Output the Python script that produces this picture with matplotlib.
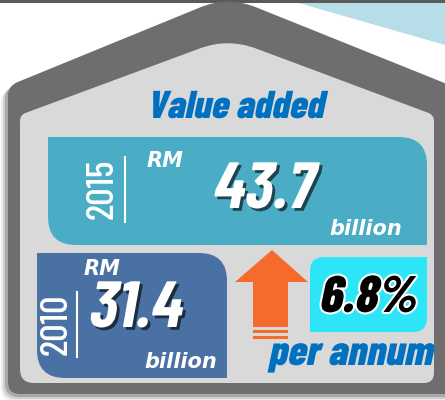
import numpy as np
import matplotlib
matplotlib.use('Agg')
import matplotlib.pyplot as plt
from matplotlib.path import Path
from matplotlib.patches import PathPatch, Polygon, Rectangle
from matplotlib.font_manager import FontProperties, fontManager
from matplotlib.transforms import Affine2D
import matplotlib.patheffects as pe

# data
years = [2010, 2015]
values = [31.4, 43.7]
growth = 6.8
title = 'Value added'
currency = 'RM'
unit = 'billion'
rate_label = 'per annum'

BLUE = '#0070c0'


def narrow(size, weight=400):
    # condensed face if there is one, else DejaVu Sans Condensed
    for f in fontManager.ttflist:
        if f.name == 'Barlow Condensed' and f.style == 'normal' and f.weight == weight:
            return FontProperties(fname=f.fname, size=size)
    return FontProperties(family=['DejaVu Sans'], weight='bold' if weight >= 600 else 'normal',
                          stretch='condensed', size=size)


class Slant(pe.AbstractPathEffect):
    """shear the glyphs around the text origin (fake italic)"""

    def __init__(self, deg=12, inner=None):
        super().__init__()
        self.deg = deg
        self.inner = inner

    def draw_path(self, renderer, gc, tpath, affine, rgbFace=None):
        m = affine.get_matrix()
        tx, ty = m[0, 2], m[1, 2]
        sk = affine + Affine2D().translate(-tx, -ty).skew_deg(self.deg, 0).translate(tx, ty)
        if self.inner is None:
            renderer.draw_path(gc, tpath, sk, rgbFace)
        else:
            self.inner.draw_path(renderer, gc, tpath, sk, rgbFace)


def rpoly(pts, radii):
    """polygon with rounded corners (quadratic curves), y axis points down"""
    verts, codes = [], []
    n = len(pts)
    for i in range(n):
        p = np.array(pts[i], float)
        a = np.array(pts[i - 1], float)
        b = np.array(pts[(i + 1) % n], float)
        r = radii[i]
        u = (a - p) / np.linalg.norm(a - p)
        v = (b - p) / np.linalg.norm(b - p)
        verts += [p + u * r, p, p + v * r]
        codes += [Path.MOVETO if i == 0 else Path.LINETO, Path.CURVE3, Path.CURVE3]
    verts.append(verts[0])
    codes.append(Path.CLOSEPOLY)
    return Path(verts, codes)


def box(x0, y0, x1, y1, r):
    return rpoly([(x0, y0), (x1, y0), (x1, y1), (x0, y1)], r)


fig = plt.figure(figsize=(4.45, 4.0), dpi=100)
ax = fig.add_axes([0, 0, 1, 1])
ax.set_xlim(0, 445)
ax.set_ylim(400, 0)
ax.axis('off')

# background bits
ax.add_patch(Polygon([(295, 2), (445, 2), (445, 45)], closed=True, color='#b7dee8', lw=0))
ax.add_patch(Rectangle((0, 0), 445, 2.5, color='#5a5a5a', lw=0))

# house with soft shadow
outer = [(8, 394), (8, 86), (228, -4), (452, 86), (452, 394)]
for d, al in [(7, 0.08), (5, 0.12), (3, 0.18)]:
    sh = [(x - d, y + d) for x, y in outer]
    ax.add_patch(PathPatch(rpoly(sh, [14, 10, 30, 10, 0]), fc='black', alpha=al, lw=0))
ax.add_patch(PathPatch(rpoly(outer, [12, 10, 30, 10, 0]), fc='#6e6e6e', lw=0))
inner = [(20, 383), (20, 115), (228, 38), (434, 115), (434, 383)]
ax.add_patch(PathPatch(rpoly(inner, [14, 6, 30, 6, 10]), fc='#d9d9d9', lw=0))

ax.text(235, 118, title, color=BLUE, fontproperties=narrow(28, 800),
        ha='center', va='baseline', path_effects=[Slant(12)])

shadow = [Slant(10, pe.SimplePatchShadow(offset=(2, -2), shadow_rgbFace='black', alpha=0.6)), Slant(10)]
small = dict(color='white', fontsize=15, family='DejaVu Sans', weight='bold', style='oblique',
             ha='center', va='baseline')

# 2015 box
ax.add_patch(PathPatch(box(48, 137, 427, 245, [0, 28, 0, 28]), fc='#4bacc6', lw=0))
ax.text(103, 189, str(years[1]), color='white', fontproperties=narrow(28, 500),
        rotation=90, ha='center', va='center')
ax.plot([125, 125], [157, 222], color='white', lw=1.5)
ax.text(165, 167, currency, **small)
ax.text(262, 208, f'{values[1]:.1f}', color='white', fontproperties=narrow(47, 700),
        ha='center', va='baseline', path_effects=shadow)
ax.text(366, 235, unit, **small)

# 2010 box
ax.add_patch(PathPatch(box(37, 253, 227, 378, [0, 28, 0, 28]), fc='#4a71a3', lw=0))
ax.text(57, 324, str(years[0]), color='white', fontproperties=narrow(28, 500),
        rotation=90, ha='center', va='center')
ax.plot([77, 77], [292, 357], color='white', lw=1.5)
ax.text(102, 275, currency, **small)
ax.text(134, 327, f'{values[0]:.1f}', color='white', fontproperties=narrow(47, 700),
        ha='center', va='baseline', path_effects=shadow)
ax.text(181, 368, unit, **small)

# arrow
arrow = [(253, 327), (253, 282), (235, 282), (272, 250), (308, 282), (288, 282), (288, 327)]
ax.add_patch(Polygon(arrow, closed=True, color='#f46b2c', lw=0))
for y in [330, 336]:
    ax.add_patch(Rectangle((253, y), 35, 3, color='#f46b2c', lw=0))

# growth box
ax.add_patch(PathPatch(box(310, 257, 427, 332, [14, 0, 14, 0]), fc='#2ce6f7', lw=0))
ax.text(367, 312, f'{growth}%', color='black', fontproperties=narrow(37, 800),
        ha='center', va='baseline',
        path_effects=[Slant(12, pe.Stroke(linewidth=3, foreground='white')), Slant(12)])
ax.text(350, 365, rate_label, color=BLUE, fontproperties=narrow(30, 800),
        ha='center', va='baseline', path_effects=[Slant(12)])

fig.savefig('out.png', dpi=100)
